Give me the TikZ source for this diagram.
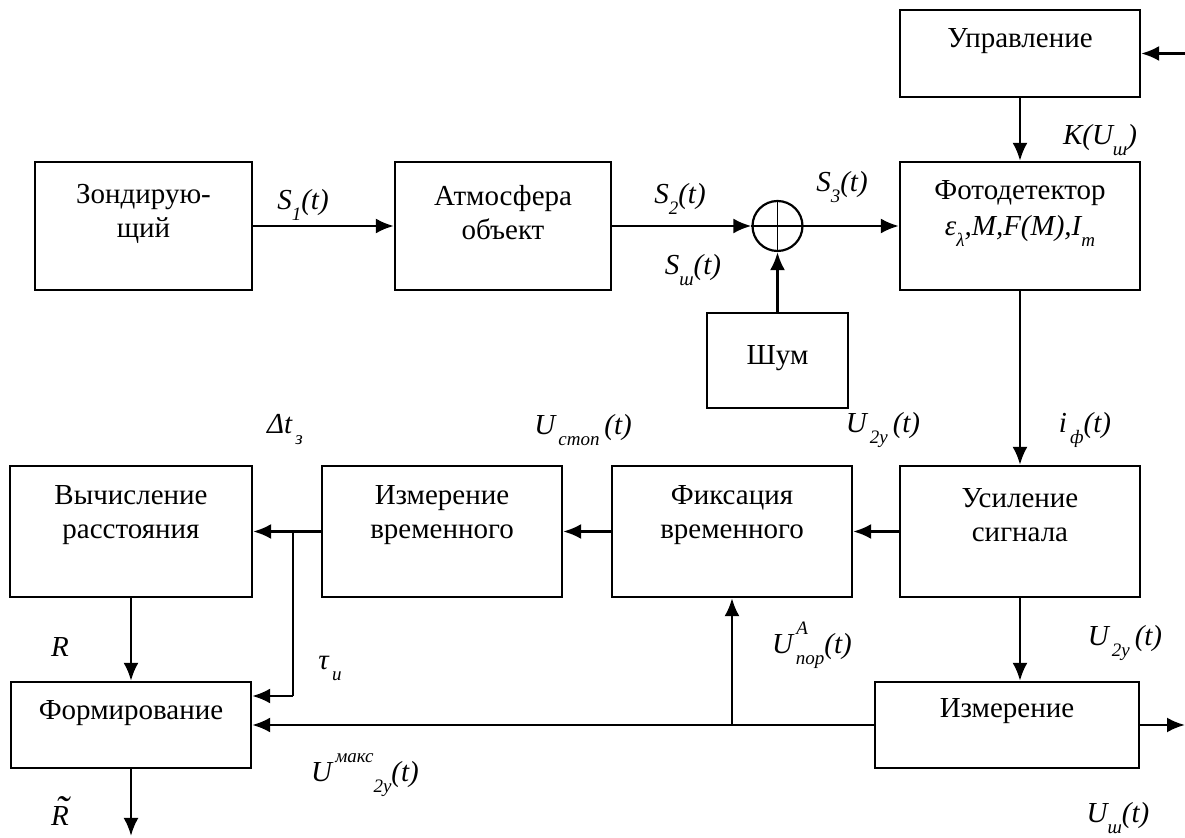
\documentclass[tikz,border=0pt]{standalone}
\usepackage{fontspec}
\setmainfont{Liberation Serif}
\usetikzlibrary{arrows.meta}
\newcommand{\lo}[1]{\raisebox{-5.5pt}{\fontsize{9.5}{9.5}\selectfont\itshape #1}}
\newcommand{\hi}[1]{\raisebox{9.5pt}{\fontsize{9.5}{9.5}\selectfont\itshape #1}}
\begin{document}
\begin{tikzpicture}[x=0.5pt,y=-0.5pt,
  blk/.style={draw, line width=1.1pt, inner sep=0pt},
  txt/.style={font=\fontsize{14.5}{17}\selectfont, align=center, inner sep=0pt},
  lab/.style={font=\fontsize{14.5}{17}\selectfont\itshape, inner sep=0pt},
  con/.style={line width=1.35pt},
  arr/.style={con, -{Latex[length=9pt,width=7.5pt]}}]
\useasboundingbox (0,0) rectangle (1185,838);
% blocks
\node[blk, minimum width=108.5pt, minimum height=64pt] (zond) at (143.5,226) {};
\node[blk, minimum width=108pt, minimum height=64pt] (atm) at (503,226) {};
\node[blk, minimum width=120pt, minimum height=43.5pt] (upr) at (1020,53.5) {};
\node[blk, minimum width=120pt, minimum height=64pt] (foto) at (1020,226) {};
\node[blk, minimum width=70.5pt, minimum height=47.5pt] (shum) at (777.5,360.5) {};
\node[draw, circle, line width=1.1pt, minimum size=25pt, inner sep=0pt] (sum) at (777.5,226) {};
\node[blk, minimum width=121pt, minimum height=65.5pt] (vych) at (131,531.5) {};
\node[blk, minimum width=120pt, minimum height=65.5pt] (izvr) at (442,531.5) {};
\node[blk, minimum width=120pt, minimum height=65.5pt] (fiks) at (732,531.5) {};
\node[blk, minimum width=120pt, minimum height=65.5pt] (usil) at (1020,531.5) {};
\node[blk, minimum width=120pt, minimum height=43pt] (form) at (131,725) {};
\node[blk, minimum width=132pt, minimum height=43pt] (izm) at (1007,725) {};
% block texts
\node[txt] (t-zond) at (143.5,214) {Зондирую-\\щий};
\node[txt] (t-atm) at (503,213) {Атмосфера\\объект};
\node[txt] (t-upr) at (1020,41) {Управление};
\node[txt] (t-foto) at (1020,193) {Фотодетектор};
\node[txt, font=\fontsize{14.5}{17}\selectfont\itshape] (t-foto2) at (1020,231) {ε\lo{λ},M,F(M),I\lo{m}};
\node[txt] (t-shum) at (777.5,358) {Шум};
\node[txt] (t-vych) at (131,515) {Вычисление\\расстояния};
\node[txt] (t-izvr) at (442,515) {Измерение\\временного};
\node[txt] (t-fiks) at (732,515) {Фиксация\\временного};
\node[txt] (t-usil) at (1020,515) {Усиление\\сигнала};
\node[txt] (t-form) at (131,713) {Формирование};
\node[txt] (t-izm) at (1007,711) {Измерение};
% sum cross
\draw[line width=0.8pt] (sum.north) -- (sum.south);
\draw[line width=0.8pt] (sum.west) -- (sum.east);
% coordinates
\coordinate (inU) at (1185,53.5);
\coordinate (outI) at (1185,725);
\coordinate (outF) at (131,836);
\coordinate (b1) at (293,531.5);
\coordinate (tk) at (293,696);
\coordinate (b2) at (732,725);
% connectors
\draw[arr] (inU) -- (upr.east);
\draw[arr] (upr.south) -- (foto.north);
\draw[arr] (zond.east) -- (atm.west);
\draw[arr] (atm.east) -- (sum.west);
\draw[arr] (sum.east) -- (foto.west);
\draw[arr] (shum.north) -- (sum.south);
\draw[arr] (foto.south) -- (usil.north);
\draw[arr] (usil.west) -- (fiks.east);
\draw[arr] (fiks.west) -- (izvr.east);
\draw[arr] (izvr.west) -- (vych.west -| vych.east);
\draw[con] (b1) -- (tk);
\draw[arr] (tk) -- (tk -| form.east);
\draw[arr] (vych.south) -- (form.north);
\draw[arr] (usil.south) -- (usil.south |- izm.north);
\draw[arr] (izm.west) -- (form.east);
\draw[arr] (b2) -- (fiks.south);
\draw[arr] (izm.east) -- (outI);
\draw[arr] (form.south) -- (outF);
% labels
\node[lab] (l-s1) at (303,205) {S\lo{1}(t)};
\node[lab] (l-s2) at (680,199) {S\lo{2}(t)};
\node[lab] (l-s3) at (842,187) {S\lo{3}(t)};
\node[lab] (l-ssh) at (693,270) {S\lo{ш}(t)};
\node[lab] (l-k) at (1100,140) {K(U\lo{ш})};
\node[lab] (l-dt) at (285,430) {Δt\lo{\,з}};
\node[lab] (l-ust) at (583,430) {U\lo{\,стоп}\,(t)};
\node[lab] (l-u2a) at (883,430) {U\lo{\,2y}\,(t)};
\node[lab] (l-if) at (1085,430) {i\lo{\,ф}(t)};
\node[lab] (l-r) at (60,647) {R};
\node[lab] (l-tau) at (330,668) {τ\lo{\,и}};
\node[lab] (l-upor) at (812,645) {U\hi{\,A}\hspace{-6pt}\lo{пор}(t)};
\node[lab] (l-u2b) at (1125,643) {U\lo{\,2y}\,(t)};
\node[lab] (l-umax) at (365,775) {U\hi{\,макс}\lo{2y}(t)};
\node[lab, align=center, anchor=south] (l-rt) at (60,826) {\hspace{2pt}{\fontsize{20}{20}\selectfont ˜}\\[-16pt]R};
\node[lab] (l-ush) at (1118,818) {U\lo{ш}(t)};
\end{tikzpicture}
\end{document}
